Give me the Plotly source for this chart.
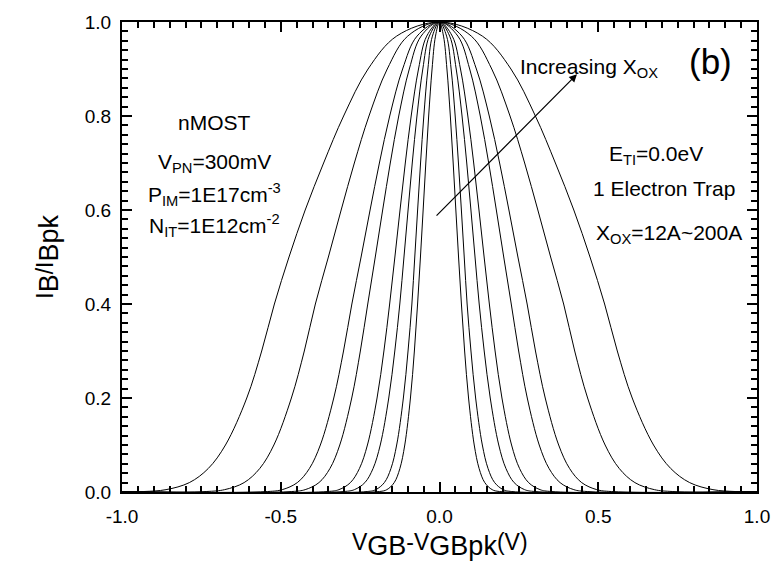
import plotly.graph_objects as go

# Normalised body current levels at which each curve's half-width is tabulated
LEVELS = [1.0, 0.97, 0.9, 0.8, 0.7, 0.6, 0.5, 0.4, 0.3, 0.2, 0.1, 0.05, 0.02, 0.005, 0.001]

# Half-width (V) of each I_B/I_Bpk peak at the levels above, thinnest oxide first
HW_1 = [0, 0.0126, 0.0234, 0.0341, 0.0431, 0.0515, 0.0600, 0.069, 0.0791, 0.0915, 0.1094, 0.1248, 0.1426, 0.1659, 0.1895]
HW_2 = [0, 0.0223, 0.0366, 0.0494, 0.0597, 0.0689, 0.0779, 0.087, 0.0991, 0.1138, 0.1349, 0.1529, 0.1737, 0.2007, 0.2277]
HW_3 = [0, 0.0320, 0.0526, 0.0710, 0.0858, 0.0990, 0.1119, 0.125, 0.1408, 0.1598, 0.1866, 0.2093, 0.2350, 0.2681, 0.3009]
HW_4 = [0, 0.0402, 0.0661, 0.0892, 0.1077, 0.1243, 0.1405, 0.157, 0.1751, 0.1967, 0.2270, 0.2522, 0.2806, 0.3168, 0.3523]
HW_5 = [0, 0.0579, 0.0951, 0.1284, 0.1550, 0.1790, 0.2023, 0.226, 0.2493, 0.2764, 0.3141, 0.3451, 0.3797, 0.4231, 0.4651]
HW_6 = [0, 0.0707, 0.1162, 0.1568, 0.1893, 0.2186, 0.2470, 0.276, 0.3023, 0.3330, 0.3753, 0.4097, 0.4478, 0.4954, 0.5412]
HW_7 = [0, 0.1001, 0.1646, 0.2221, 0.2682, 0.3097, 0.3500, 0.391, 0.4258, 0.4665, 0.5216, 0.5662, 0.6154, 0.6768, 0.7351]
HW_8 = [0, 0.1350, 0.2250, 0.3020, 0.3650, 0.4230, 0.4740, 0.520, 0.5600, 0.6070, 0.6741, 0.7283, 0.7878, 0.8613, 0.9314]

CURVES = [HW_1, HW_2, HW_3, HW_4, HW_5, HW_6, HW_7, HW_8]

X_RANGE = [-1.0, 1.0]
Y_RANGE = [0.0, 1.0]
X_TICKS = [-1.0, -0.5, 0.0, 0.5, 1.0]
X_TICK_TEXT = ["-1.0", "-0.5", "0.0", "0.5", "1.0"]
Y_TICKS = [0.0, 0.2, 0.4, 0.6, 0.8, 1.0]
Y_TICK_TEXT = ["0.0", "0.2", "0.4", "0.6", "0.8", "1.0"]

FONT = "Liberation Sans, Arial, sans-serif"

fig = go.Figure()

for hw in CURVES:
    # left flank rises from the tail to the peak, right flank falls back down
    xs = [X_RANGE[0]] + [-w for w in reversed(hw)] + hw[1:] + [X_RANGE[1]]
    ys = [0.0] + list(reversed(LEVELS)) + LEVELS[1:] + [0.0]
    fig.add_trace(go.Scatter(
        x=xs, y=ys, mode="lines",
        line=dict(color="black", width=1, shape="spline", smoothing=1.0),
        showlegend=False, hoverinfo="skip",
    ))

axis_common = dict(
    showgrid=False, zeroline=False,
    showline=True, linecolor="black", linewidth=2,
    mirror="allticks", ticks="inside", ticklen=10, tickwidth=2, tickcolor="black",
    tickfont=dict(family=FONT, size=19, color="black"),
)

fig.update_xaxes(
    range=X_RANGE, tickvals=X_TICKS, ticktext=X_TICK_TEXT, ticklabelstandoff=6,
    minor=dict(ticks="inside", ticklen=6, tickwidth=1.5, tickcolor="black", dtick=0.05),
    **axis_common,
)
fig.update_yaxes(
    range=Y_RANGE, tickvals=Y_TICKS, ticktext=Y_TICK_TEXT, ticklabelstandoff=5,
    minor=dict(ticks="inside", ticklen=6, tickwidth=1.5, tickcolor="black", dtick=0.02),
    **axis_common,
)

BIG = "font-size:27px"

annotations = [
    # axis titles
    dict(x=0.5, y=-0.112, xref="paper", yref="paper",
         text=f"V<sub><span style='{BIG}'>GB</span></sub>-V<sub><span style='{BIG}'>GBpk</span></sub>(V)",
         font=dict(family=FONT, size=23, color="black"), showarrow=False,
         xanchor="center", yanchor="middle"),
    dict(x=-0.117, y=0.5, xref="paper", yref="paper", textangle=-90,
         text=f"I<sub><span style='{BIG}'>B</span></sub>/I<sub><span style='{BIG}'>Bpk</span></sub>",
         font=dict(family=FONT, size=23, color="black"), showarrow=False,
         xanchor="center", yanchor="middle"),
    # device parameters
    dict(x=-0.709, y=0.787, text="nMOST"),
    dict(x=-0.709, y=0.699, text="V<sub>PN</sub>=300mV"),
    dict(x=-0.709, y=0.632, text="P<sub>IM</sub>=1E17cm<sup>-3</sup>"),
    dict(x=-0.709, y=0.566, text="N<sub>IT</sub>=1E12cm<sup>-2</sup>"),
    dict(x=0.682, y=0.718, text="E<sub>TI</sub>=0.0eV"),
    dict(x=0.706, y=0.645, text="1 Electron Trap"),
    dict(x=0.722, y=0.550, text="X<sub>OX</sub>=12A~200A"),
    dict(x=0.471, y=0.902, text="Increasing X<sub>OX</sub>"),
]
for a in annotations[2:]:
    a.update(xref="x", yref="y", showarrow=False, xanchor="center", yanchor="middle",
             font=dict(family=FONT, size=21, color="black"))

annotations.append(dict(x=0.852, y=0.916, xref="x", yref="y", text="(b)", showarrow=False,
                        xanchor="center", yanchor="middle",
                        font=dict(family=FONT, size=35, color="black")))

# trend arrow across the family of curves
annotations.append(dict(x=0.433, y=0.889, ax=-0.014, ay=0.585, xref="x", yref="y",
                        axref="x", ayref="y", text="", showarrow=True,
                        arrowhead=2, arrowsize=1.3, arrowwidth=1.2, arrowcolor="black"))

fig.update_layout(
    width=782, height=561,
    margin=dict(l=122, r=13, t=13, b=69),
    paper_bgcolor="white", plot_bgcolor="white",
    annotations=annotations,
    font=dict(family=FONT, color="black"),
)

fig.write_html("out.html")
